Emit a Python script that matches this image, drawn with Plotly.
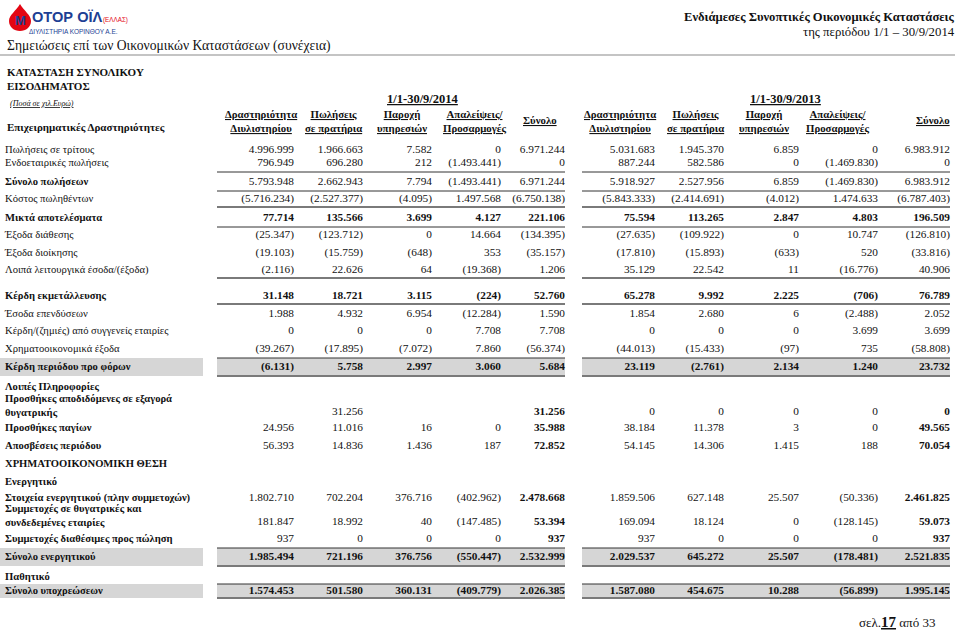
import plotly.graph_objects as go

# ---- data (ποσά σε χιλ. ευρώ) ----
row_labels = [
    "Πωλήσεις σε τρίτους",
    "Ενδοεταιρικές πωλήσεις",
    "Σύνολο πωλήσεων",
    "Κόστος πωληθέντων",
    "Μικτά αποτελέσματα",
    "Έξοδα διάθεσης",
    "Έξοδα διοίκησης",
    "Λοιπά λειτουργικά έσοδα/(έξοδα)",
    "Κέρδη εκμετάλλευσης",
    "Έσοδα επενδύσεων",
    "Κέρδη/(ζημιές) από συγγενείς εταιρίες",
    "Χρηματοοικονομικά έξοδα",
    "Κέρδη περιόδου προ φόρων",
    "Λοιπές Πληροφορίες",
    "Προσθήκες αποδιδόμενες σε εξαγορά<br>θυγατρικής",
    "Προσθήκες παγίων",
    "Αποσβέσεις περιόδου",
    "ΧΡΗΜΑΤΟΟΙΚΟΝΟΜΙΚΗ ΘΕΣΗ",
    "Ενεργητικό",
    "Στοιχεία ενεργητικού (πλην συμμετοχών)",
    "Συμμετοχές σε θυγατρικές και<br>συνδεδεμένες εταιρίες",
    "Συμμετοχές διαθέσιμες προς πώληση",
    "Σύνολο ενεργητικού",
    "Παθητικό",
    "Σύνολο υποχρεώσεων",
]

refinery_2014 = [4996999, 796949, 5793948, -5716234, 77714, -25347, -19103, -2116, 31148, 1988, 0, -39267, -6131,
                 None, None, 24956, 56393, None, None, 1802710, 181847, 937, 1985494, None, 1574453]
retail_2014 = [1966663, 696280, 2662943, -2527377, 135566, -123712, -15759, 22626, 18721, 4932, 0, -17895, 5758,
               None, 31256, 11016, 14836, None, None, 702204, 18992, 0, 721196, None, 501580]
services_2014 = [7582, 212, 7794, -4095, 3699, 0, -648, 64, 3115, 6954, 0, -7072, 2997,
                 None, None, 16, 1436, None, None, 376716, 40, 0, 376756, None, 360131]
elim_2014 = [0, -1493441, -1493441, 1497568, 4127, 14664, 353, -19368, -224, -12284, 7708, 7860, 3060,
             None, None, 0, 187, None, None, -402962, -147485, 0, -550447, None, -409779]
total_2014 = [6971244, 0, 6971244, -6750138, 221106, -134395, -35157, 1206, 52760, 1590, 7708, -56374, 5684,
              None, 31256, 35988, 72852, None, None, 2478668, 53394, 937, 2532999, None, 2026385]

refinery_2013 = [5031683, 887244, 5918927, -5843333, 75594, -27635, -17810, 35129, 65278, 1854, 0, -44013, 23119,
                 None, 0, 38184, 54145, None, None, 1859506, 169094, 937, 2029537, None, 1587080]
retail_2013 = [1945370, 582586, 2527956, -2414691, 113265, -109922, -15893, 22542, 9992, 2680, 0, -15433, -2761,
               None, 0, 11378, 14306, None, None, 627148, 18124, 0, 645272, None, 454675]
services_2013 = [6859, 0, 6859, -4012, 2847, 0, -633, 11, 2225, 6, 0, -97, 2134,
                 None, 0, 3, 1415, None, None, 25507, 0, 0, 25507, None, 10288]
elim_2013 = [0, -1469830, -1469830, 1474633, 4803, 10747, 520, -16776, -706, -2488, 3699, 735, 1240,
             None, 0, 0, 188, None, None, -50336, -128145, 0, -178481, None, -56899]
total_2013 = [6983912, 0, 6983912, -6787403, 196509, -126810, -33816, 40906, 76789, 2052, 3699, -58808, 23732,
              None, 0, 49565, 70054, None, None, 2461825, 59073, 937, 2521835, None, 1995145]

columns = [refinery_2014, retail_2014, services_2014, elim_2014, total_2014,
           refinery_2013, retail_2013, services_2013, elim_2013, total_2013]
col_headers = ["Δραστηριότητα<br>Διυλιστηρίου", "Πωλήσεις<br>σε πρατήρια", "Παροχή<br>υπηρεσιών",
               "Απαλείψεις/<br>Προσαρμογές", "Σύνολο"]
periods = ["1/1-30/9/2014", "1/1-30/9/2013"]

# ---- layout (pixel space) ----
W, H = 960, 632
SERIF = "Liberation Serif"
row_y = [150, 163, 182, 199, 218, 235, 253, 270, 296, 314, 331, 349, 367, 387, 412, 428, 446, 464, 482,
         498, 522, 539, 557, 577, 591]
two_line_rows = {14, 20}
bold_label_rows = {2, 4, 8, 12} | set(range(13, 25))
bold_value_rows = {4, 8, 12, 22, 24}
col_right = [292, 361, 430, 499, 563, 653, 722, 797, 876, 948]
head_x = [261, 333, 402, 474, 540, 620, 695, 764, 837, 933]
period_x = [423, 785]
blocks = [(217, 565), (582, 950)]
shaded_rows = {12: 9, 22: 9, 24: 7}
thin_under = [1, 2, 4, 11, 21]
double_under = [3, 7, 8, 12, 22, 24]


def fmt(v):
    if v is None:
        return ""
    s = f"{abs(v):,}".replace(",", ".")
    return f"({s})" if v < 0 else s


fig = go.Figure()

# shaded total rows
shapes = []
for r, hh in shaded_rows.items():
    for x0, x1 in [(0, 203)] + blocks:
        shapes.append(dict(type="rect", xref="x", yref="y", x0=x0, x1=x1, y0=row_y[r] - hh, y1=row_y[r] + hh,
                           fillcolor="#d6d6d6", line_width=0, layer="below"))
# rules under rows
for r in thin_under:
    for x0, x1 in blocks:
        shapes.append(dict(type="line", xref="x", yref="y", x0=x0, x1=x1, y0=row_y[r] + 9, y1=row_y[r] + 9,
                           line=dict(color="#333333", width=1)))
for r in double_under:
    hh = shaded_rows.get(r, 8)
    for x0, x1 in blocks:
        shapes.append(dict(type="line", xref="x", yref="y", x0=x0, x1=x1, y0=row_y[r] + hh, y1=row_y[r] + hh,
                           line=dict(color="#7a7a7a", width=2.2)))
# top rule of last shaded row
for x0, x1 in blocks:
    shapes.append(dict(type="line", xref="x", yref="y", x0=x0, x1=x1, y0=row_y[24] - 7, y1=row_y[24] - 7,
                       line=dict(color="#333333", width=1)))
# header rule
shapes.append(dict(type="line", xref="x", yref="y", x0=0, x1=955, y0=55, y1=55,
                   line=dict(color="#8a8a8a", width=1.2)))
# logo drop
shapes.append(dict(type="path", xref="x", yref="y",
                   path="M 20 4 C 24 11, 31 15, 31 21 C 31 27, 26 31, 20 31 C 14 31, 9 27, 9 21 C 9 15, 16 11, 20 4 Z",
                   fillcolor="#e30613", line_width=0))

# row labels
lab_y = [y - 6 if i in two_line_rows else y for i, y in enumerate(row_y)]
lab_txt = [f"<b>{t}</b>" if i in bold_label_rows else t for i, t in enumerate(row_labels)]
fig.add_trace(go.Scatter(x=[5] * len(row_labels), y=lab_y, text=lab_txt, mode="text",
                         textposition="middle right", textfont=dict(family=SERIF, size=10.6, color="#111"),
                         hoverinfo="skip", showlegend=False))

# values
for c, vals in enumerate(columns):
    txt = []
    for r, v in enumerate(vals):
        s = fmt(v)
        if s and (r in bold_value_rows or (c % 5 == 4 and r >= 13)):
            s = f"<b>{s}</b>"
        txt.append(s)
    fig.add_trace(go.Scatter(x=[col_right[c] + 2] * len(vals), y=row_y, text=txt, mode="text",
                             textposition="middle left", textfont=dict(family=SERIF, size=11.3, color="#111"),
                             hoverinfo="skip", showlegend=False))

ann = []


def add(x, y, text, size, xanchor="left", align="left", color="#111", family=SERIF):
    ann.append(dict(x=x, y=y, xref="x", yref="y", text=text, showarrow=False, xanchor=xanchor, yanchor="middle",
                    align=align, font=dict(family=family, size=size, color=color)))


# column headers
for i, hx in enumerate(head_x):
    h = col_headers[i % 5]
    lines = h.split("<br>")
    txt = "<br>".join(f"<b><u>{s}</u></b>" for s in lines)
    add(hx, 121 if len(lines) == 2 else 120, txt, 10.8, xanchor="center", align="center")
for px, p in zip(period_x, periods):
    add(px, 99, f"<b><u>{p}</u></b>", 12.5, xanchor="center")

add(5, 46, "Σημειώσεις επί των Οικονομικών Καταστάσεων (συνέχεια)", 13.6)
add(957, 17, "<b>Ενδιάμεσες Συνοπτικές Οικονομικές Καταστάσεις</b>", 12.6, xanchor="right")
add(957, 32, "της περιόδου 1/1 – 30/9/2014", 12.8, xanchor="right")
add(5, 79, "<b>ΚΑΤΑΣΤΑΣΗ ΣΥΝΟΛΙΚΟΥ<br>ΕΙΣΟΔΗΜΑΤΟΣ</b>", 11)
add(8, 103, "<i><u>(Ποσά σε χιλ.Ευρώ)</u></i>", 8)
add(5, 127, "<b>Επιχειρηματικές Δραστηριότητες</b>", 11)
add(937, 622, "σελ.<b><u><span style='font-size:15px'>17</span></u></b> από 33", 13, xanchor="right")

# logo text
add(20, 20, "<b>M</b>", 13, xanchor="center", color="#1d3f94", family="Liberation Sans")
add(30, 17, "<b>ΟΤΟΡ ΟΪΛ</b>", 14.6, color="#1d3f94", family="Liberation Sans")
add(101, 20, "(ΕΛΛΑΣ)", 6.3, color="#e30613", family="Liberation Sans")
add(27, 31, "ΔΙΥΛΙΣΤΗΡΙΑ ΚΟΡΙΝΘΟΥ Α.Ε.", 6.5, color="#1d3f94", family="Liberation Sans")

fig.update_layout(
    width=W, height=H, margin=dict(l=0, r=0, t=0, b=0),
    paper_bgcolor="white", plot_bgcolor="white",
    xaxis=dict(range=[0, W], visible=False, fixedrange=True),
    yaxis=dict(range=[H, 0], visible=False, fixedrange=True),
    shapes=shapes, annotations=ann,
)

fig.write_html("out.html", config={"displayModeBar": False},
               post_script="document.body.style.margin='0';")
